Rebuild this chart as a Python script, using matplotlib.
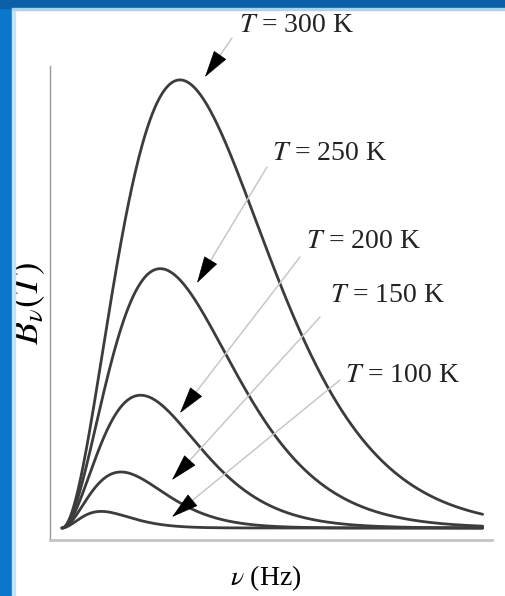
import numpy as np
import matplotlib.pyplot as plt
from matplotlib.patches import Rectangle

plt.rcParams['mathtext.fontset'] = 'stix'
plt.rcParams['font.family'] = ['Liberation Serif', 'DejaVu Serif']

# temperatures of the blackbody curves (K)
temps = [100, 150, 200, 250, 300]
labels = ['$T$ = 100 K', '$T$ = 150 K', '$T$ = 200 K', '$T$ = 250 K', '$T$ = 300 K']
nu_max = 6.29e13  # Hz, right end of the curves

h = 6.626e-34
k = 1.381e-23

W, H = 506, 596
fig = plt.figure(figsize=(W / 100, H / 100), dpi=100)
fig.patch.set_facecolor('white')

# axes box (pixels measured from top-left of picture)
ax = fig.add_axes([50 / W, 1 - 540 / H, 442 / W, 474 / H])
ax.set_facecolor('white')

nu = np.linspace(1e9, nu_max, 500)
curves = {}
for T in temps:
    curves[T] = nu**3 / np.expm1(h * nu / (k * T))
norm = max(c.max() for c in curves.values())

for T in temps:
    ax.plot(nu / 1e13, curves[T] / norm, color='#3c3c3c', lw=2.0, solid_capstyle='round')

ax.set_xlim(-0.179, 6.43)
ax.set_ylim(-0.0268, 1.031)
ax.set_xticks([])
ax.set_yticks([])
for s in ['top', 'right']:
    ax.spines[s].set_visible(False)
ax.spines['left'].set_color('#9a9a9a')
ax.spines['left'].set_linewidth(1.0)
ax.spines['bottom'].set_color('#c4c4c4')
ax.spines['bottom'].set_linewidth(2.0)

ax.set_ylabel(r'$B_\nu(T)$', fontsize=27, va='center')
ax.yaxis.set_label_coords((28 - 50) / 442, 0.5)
ax.set_xlabel(r'$\nu$ (Hz)', fontsize=20, va='center')
ax.xaxis.set_label_coords((266 - 50) / 442, (540 - 578) / 474)


def px(x, y):
    return (x, H - y)


# label centre, start of grey leader line, arrow tip (picture pixels)
text_pos = [(403, 375), (388, 296), (364, 242), (330, 154), (297, 26)]
line_start = [(340, 380), (320, 317), (300, 257), (267, 167), (232, 38)]
tips = [(172, 517), (172, 480), (180, 413), (197, 283), (205, 77)]
head_len = 26

for lab, tp, ls, tip in zip(labels, text_pos, line_start, tips):
    d = np.array(ls, float) - np.array(tip, float)
    d /= np.hypot(*d)
    base = (tip[0] + d[0] * head_len, tip[1] + d[1] * head_len)
    ax.annotate('', xy=px(*base), xycoords='figure pixels',
                xytext=px(*ls), textcoords='figure pixels',
                arrowprops=dict(arrowstyle='-', color='#c8c8c8', lw=1.1,
                                shrinkA=0, shrinkB=0))
    ax.annotate('', xy=px(*tip), xycoords='figure pixels',
                xytext=px(*base), textcoords='figure pixels',
                arrowprops=dict(arrowstyle='-|>,head_length=18,head_width=5',
                                mutation_scale=1, color='black', lw=0.5,
                                shrinkA=0, shrinkB=0))
    fig.text(tp[0] / W, 1 - tp[1] / H, lab, fontsize=20, ha='center', va='center',
             color='#222222')

# blue frame of the slide
fig.patches.append(Rectangle((0, 0), 12 / W, 1, transform=fig.transFigure,
                             color='#0a76cc', zorder=10))
fig.patches.append(Rectangle((12 / W, 0), 3 / W, 1, transform=fig.transFigure,
                             color='#bfe6fb', zorder=10))
fig.patches.append(Rectangle((0, 1 - 8 / H), 1, 8 / H, transform=fig.transFigure,
                             color='#0b60a8', zorder=10))
fig.patches.append(Rectangle((12 / W, 1 - 10 / H), 1, 2 / H, transform=fig.transFigure,
                             color='#a9d4f0', zorder=10))

fig.savefig('out.png', dpi=100)
